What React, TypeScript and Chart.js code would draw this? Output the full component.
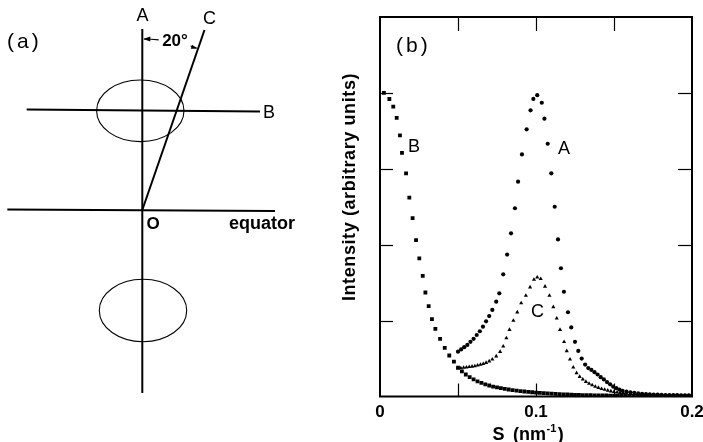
import React, { useEffect, useRef } from "react";
import { Chart, registerables } from "chart.js";

Chart.register(...registerables);

// ---------------- data ----------------
const X_MIN = 0;
const X_MAX = 0.2;
const Y_MIN = 0;
const Y_MAX = 5;
const X_TICK_VALUES = [0, 0.1, 0.2];
const X_TICK_LABELS = ["0", "0.1", "0.2"];
const X_INNER_TICKS = [0.05, 0.1, 0.15];
const Y_INNER_TICKS = [1, 2, 3, 4];

// curve B (squares)
const B_S = [
  0.0025, 0.006, 0.0085, 0.0107, 0.0128, 0.0141, 0.0167, 0.0188, 0.0209, 0.0231, 0.0252, 0.0274, 0.0291, 0.0312, 0.0333, 0.0355, 0.0385, 0.0415, 0.0444, 0.0474, 0.05,
  0.0525, 0.055, 0.0575, 0.06, 0.0625, 0.065, 0.0675, 0.07, 0.0725, 0.075, 0.0775, 0.08, 0.0825, 0.085, 0.0875, 0.09, 0.0925, 0.095, 0.0975, 0.1,
  0.1025, 0.105, 0.1075, 0.11, 0.1125, 0.115, 0.1175, 0.12, 0.1225, 0.125, 0.1275, 0.13, 0.1325, 0.135, 0.1375, 0.14, 0.1425, 0.145, 0.1475, 0.15,
  0.1525, 0.155, 0.1575, 0.16, 0.1625, 0.165, 0.1675, 0.17, 0.1725, 0.175, 0.1775, 0.18, 0.1825, 0.185, 0.1875, 0.19, 0.1925, 0.195, 0.1975, 0.2,
];
const B_I = [
  4.0, 3.92, 3.82, 3.67, 3.44, 3.21, 2.94, 2.62, 2.35, 2.06, 1.82, 1.59, 1.37, 1.19, 1.02, 0.89, 0.76, 0.64, 0.54, 0.46, 0.38,
  0.33, 0.29, 0.255, 0.225, 0.2, 0.18, 0.16, 0.145, 0.13, 0.12, 0.11, 0.1, 0.092, 0.085, 0.078, 0.072, 0.066, 0.061, 0.056, 0.052,
  0.048, 0.044, 0.04, 0.037, 0.034, 0.031, 0.028, 0.026, 0.024, 0.022, 0.02, 0.019, 0.018, 0.017, 0.016, 0.015, 0.014, 0.013, 0.012, 0.012,
  0.011, 0.011, 0.01, 0.01, 0.009, 0.009, 0.008, 0.008, 0.008, 0.007, 0.007, 0.007, 0.006, 0.006, 0.006, 0.006, 0.005, 0.005, 0.005, 0.005,
];

// curve A (circles)
const A_S = [
  0.05, 0.052, 0.054, 0.056, 0.058, 0.06, 0.062, 0.064, 0.066, 0.068, 0.07, 0.072,
  0.0745, 0.0765, 0.079, 0.0815, 0.084, 0.0865, 0.0885, 0.091, 0.094, 0.0965,
  0.0983, 0.1008, 0.1037, 0.1054, 0.1075, 0.1098, 0.112, 0.1141, 0.116, 0.1179,
  0.1205, 0.1226, 0.125, 0.1271, 0.1293,
  0.1315, 0.1335, 0.1355, 0.1375, 0.1395, 0.1415, 0.1435, 0.1455, 0.1475, 0.1495, 0.1515, 0.1535, 0.1555,
  0.158, 0.1605, 0.163, 0.1655, 0.168, 0.1705, 0.173, 0.1755, 0.178, 0.1805, 0.183, 0.1855, 0.188, 0.1905, 0.193, 0.1955, 0.198,
];
const A_I = [
  0.59, 0.62, 0.65, 0.68, 0.72, 0.76, 0.81, 0.86, 0.92, 0.99, 1.06, 1.14,
  1.25, 1.36, 1.61, 1.87, 2.15, 2.48, 2.83, 3.19, 3.52, 3.77,
  3.92, 3.97, 3.87, 3.66, 3.33, 2.94, 2.5, 2.07, 1.69, 1.38,
  1.11, 0.91, 0.72, 0.6, 0.5,
  0.42, 0.375, 0.35, 0.32, 0.29, 0.255, 0.225, 0.19, 0.16, 0.13, 0.11, 0.09, 0.075,
  0.064, 0.055, 0.048, 0.042, 0.036, 0.032, 0.029, 0.026, 0.024, 0.022, 0.02, 0.019, 0.018, 0.017, 0.016, 0.015, 0.014,
];

// curve C (triangles)
const C_S = [
  0.05, 0.0518, 0.0536, 0.0554, 0.0572, 0.059, 0.0608, 0.0626, 0.0644, 0.0662, 0.068,
  0.07, 0.072, 0.0745, 0.077, 0.079, 0.081, 0.083, 0.0855, 0.088, 0.0905,
  0.0935, 0.0962, 0.0987, 0.1008, 0.103, 0.1058, 0.1086, 0.1111, 0.1133, 0.1154,
  0.118, 0.1197, 0.1218, 0.1239, 0.126,
  0.128, 0.13, 0.132, 0.134, 0.136, 0.138, 0.14, 0.142, 0.144, 0.146, 0.148, 0.15, 0.152, 0.154, 0.156, 0.158,
  0.1605, 0.163, 0.1655, 0.168, 0.1705, 0.173, 0.1755, 0.178, 0.1805, 0.183, 0.1855, 0.188, 0.1905, 0.193, 0.1955, 0.198,
];
const C_I = [
  0.37, 0.375, 0.38, 0.385, 0.39, 0.395, 0.4, 0.41, 0.42, 0.43, 0.445,
  0.465, 0.49, 0.53, 0.59, 0.66, 0.77, 0.88, 1.0, 1.11, 1.23,
  1.33, 1.44, 1.54, 1.57, 1.55, 1.45, 1.33, 1.18, 1.03, 0.88,
  0.72, 0.6, 0.49, 0.385, 0.31,
  0.26, 0.225, 0.195, 0.17, 0.15, 0.13, 0.115, 0.1, 0.09, 0.08, 0.07, 0.062, 0.055, 0.05, 0.045, 0.04,
  0.036, 0.032, 0.028, 0.025, 0.023, 0.021, 0.019, 0.018, 0.017, 0.016, 0.015, 0.014, 0.013, 0.012, 0.012, 0.011,
];

// curve labels (data coordinates)
const CURVE_LABELS = ["A", "B", "C"];
const CURVE_LABEL_S = [0.118, 0.0218, 0.101];
const CURVE_LABEL_I = [3.26, 3.29, 1.107];

const FONT = '"Liberation Sans", Arial, Helvetica, sans-serif';

function zip(xs: number[], ys: number[]) {
  const n = Math.min(xs.length, ys.length);
  const out: { x: number; y: number }[] = [];
  for (let i = 0; i < n; i++) out.push({ x: xs[i], y: ys[i] });
  return out;
}

function arrowHead(ctx: CanvasRenderingContext2D, x: number, y: number, ang: number, len: number, half: number) {
  ctx.beginPath();
  ctx.moveTo(x, y);
  ctx.lineTo(x - len * Math.cos(ang) + half * Math.sin(ang), y - len * Math.sin(ang) - half * Math.cos(ang));
  ctx.lineTo(x - len * Math.cos(ang) - half * Math.sin(ang), y - len * Math.sin(ang) + half * Math.cos(ang));
  ctx.closePath();
  ctx.fill();
}

const diagramPlugin = {
  id: "diagramA",
  afterDraw(chart: any) {
    const ctx: CanvasRenderingContext2D = chart.ctx;
    ctx.save();
    ctx.strokeStyle = "#000";
    ctx.fillStyle = "#000";
    ctx.lineCap = "butt";

    const ox = 142.3;
    const oy = 210;
    ctx.lineWidth = 2;
    ctx.beginPath();
    ctx.moveTo(ox, 29);
    ctx.lineTo(ox, 393);
    ctx.stroke();
    ctx.beginPath();
    ctx.moveTo(7.3, 209.5);
    ctx.lineTo(275, 211);
    ctx.stroke();
    ctx.beginPath();
    ctx.moveTo(26.7, 109.5);
    ctx.lineTo(260, 111.5);
    ctx.stroke();
    ctx.beginPath();
    ctx.moveTo(ox, oy);
    ctx.lineTo(204.5, 30);
    ctx.stroke();

    ctx.lineWidth = 1.1;
    ctx.beginPath();
    ctx.ellipse(140.3, 110.8, 43.7, 30.8, 0, 0, Math.PI * 2);
    ctx.stroke();
    ctx.beginPath();
    ctx.ellipse(143, 310.5, 43.7, 31.2, 0, 0, Math.PI * 2);
    ctx.stroke();

    const R = 171;
    const aStart = -Math.PI / 2;
    const aC = Math.atan2(30 - oy, 204.5 - ox);
    ctx.lineWidth = 1.2;
    ctx.beginPath();
    ctx.arc(ox, oy, R, aStart + 0.01, (-84.5 * Math.PI) / 180);
    ctx.stroke();
    ctx.beginPath();
    ctx.arc(ox, oy, R, (-73.6 * Math.PI) / 180, aC - 0.01);
    ctx.stroke();
    arrowHead(ctx, ox + R * Math.cos(aStart) + 1, oy + R * Math.sin(aStart), Math.PI, 7, 2.5);
    const ex = ox + R * Math.cos(aC);
    const ey = oy + R * Math.sin(aC);
    arrowHead(ctx, ex - 1, ey + 0.3, aC + Math.PI / 2, 6, 2.2);

    ctx.textAlign = "center";
    ctx.textBaseline = "middle";
    ctx.font = `bold 17px ${FONT}`;
    ctx.fillText("20°", 175, 41.5);
    ctx.font = `18px ${FONT}`;
    ctx.fillText("A", 142.5, 16.5);
    ctx.fillText("C", 209.5, 19.5);
    ctx.fillText("B", 269, 113);
    ctx.font = `bold 17px ${FONT}`;
    ctx.fillText("O", 153, 224);
    ctx.textBaseline = "alphabetic";
    ctx.font = `bold 18px ${FONT}`;
    ctx.fillText("equator", 262, 229);

    ctx.font = `21px ${FONT}`;
    (ctx as any).letterSpacing = "3px";
    ctx.textAlign = "left";
    ctx.fillText("(a)", 7, 48);
    ctx.restore();
  },
};

const frameB = {
  id: "frameB",
  afterDatasetsDraw(chart: any) {
    const ctx: CanvasRenderingContext2D = chart.ctx;
    const { left, right, top, bottom } = chart.chartArea;
    const xs = chart.scales.x;
    const ys = chart.scales.y;
    ctx.save();
    ctx.strokeStyle = "#000";
    ctx.fillStyle = "#000";
    ctx.lineWidth = 2;
    ctx.strokeRect(left, top, right - left, bottom - top);

    ctx.lineWidth = 1.2;
    const seg = (x1: number, y1: number, x2: number, y2: number) => {
      ctx.beginPath();
      ctx.moveTo(x1, y1);
      ctx.lineTo(x2, y2);
      ctx.stroke();
    };
    X_INNER_TICKS.forEach((v) => {
      const px = Math.round(xs.getPixelForValue(v)) + 0.5;
      seg(px, top, px, top + 14);
      seg(px, bottom, px, bottom - 13);
    });
    Y_INNER_TICKS.forEach((v) => {
      const py = Math.round(ys.getPixelForValue(v)) + 0.5;
      seg(left, py, left + 13, py);
      seg(right, py, right - 14, py);
    });

    ctx.font = `bold 17px ${FONT}`;
    ctx.textAlign = "center";
    ctx.textBaseline = "alphabetic";
    X_TICK_VALUES.forEach((v, i) => {
      ctx.fillText(X_TICK_LABELS[i], xs.getPixelForValue(v), 416.5);
    });

    const base = 440;
    ctx.textAlign = "left";
    ctx.font = `bold 18px ${FONT}`;
    ctx.fillText("S", 492.5, base);
    ctx.fillText("(nm", 513, base);
    const wNm = ctx.measureText("(nm").width;
    ctx.font = `bold 11px ${FONT}`;
    ctx.fillText("-1", 513 + wNm + 0.5, base - 8);
    const wSup = ctx.measureText("-1").width;
    ctx.font = `bold 18px ${FONT}`;
    ctx.fillText(")", 513 + wNm + wSup + 2, base);

    ctx.save();
    ctx.translate(350.5, 187);
    ctx.rotate(-Math.PI / 2);
    ctx.textAlign = "center";
    ctx.textBaseline = "middle";
    ctx.font = `bold 18px ${FONT}`;
    (ctx as any).letterSpacing = "0.6px";
    ctx.fillText("Intensity (arbitrary units)", 0, 0);
    ctx.restore();

    ctx.font = `21px ${FONT}`;
    (ctx as any).letterSpacing = "3px";
    ctx.textAlign = "left";
    ctx.textBaseline = "alphabetic";
    ctx.fillText("(b)", 396, 52);
    (ctx as any).letterSpacing = "0px";

    ctx.font = `18px ${FONT}`;
    ctx.textAlign = "center";
    ctx.textBaseline = "middle";
    CURVE_LABELS.forEach((t, i) => {
      ctx.fillText(t, xs.getPixelForValue(CURVE_LABEL_S[i]), ys.getPixelForValue(CURVE_LABEL_I[i]));
    });
    ctx.restore();
  },
};

export default function App() {
  const ref = useRef<HTMLCanvasElement | null>(null);
  useEffect(() => {
    if (!ref.current) return;
    const chart = new Chart(ref.current, {
      type: "scatter",
      data: {
        datasets: [
          {
            label: "A",
            data: zip(A_S, A_I),
            pointStyle: "circle",
            pointRadius: 2.1,
            backgroundColor: "#000",
            borderColor: "#000",
            borderWidth: 0,
          },
          {
            label: "B",
            data: zip(B_S, B_I),
            pointStyle: "rect",
            pointRadius: 2.7,
            backgroundColor: "#000",
            borderColor: "#000",
            borderWidth: 0,
          },
          {
            label: "C",
            data: zip(C_S, C_I),
            pointStyle: "triangle",
            pointRadius: 2.4,
            backgroundColor: "#000",
            borderColor: "#000",
            borderWidth: 0,
          },
        ],
      },
      options: {
        animation: false,
        responsive: false,
        maintainAspectRatio: false,
        devicePixelRatio: 1,
        layout: { padding: { left: 380, right: 11, top: 17, bottom: 45.5 } },
        scales: {
          x: { type: "linear", min: X_MIN, max: X_MAX, display: false },
          y: { type: "linear", min: Y_MIN, max: Y_MAX, display: false },
        },
        plugins: { legend: { display: false }, tooltip: { enabled: false } },
        events: [],
      },
      plugins: [diagramPlugin, frameB],
    });
    return () => chart.destroy();
  }, []);
  return (
    <div style={{ position: "absolute", left: 0, top: 0, width: 703, height: 442, background: "#fff" }}>
      <canvas ref={ref} width={703} height={442} style={{ display: "block", width: 703, height: 442 }} />
    </div>
  );
}
